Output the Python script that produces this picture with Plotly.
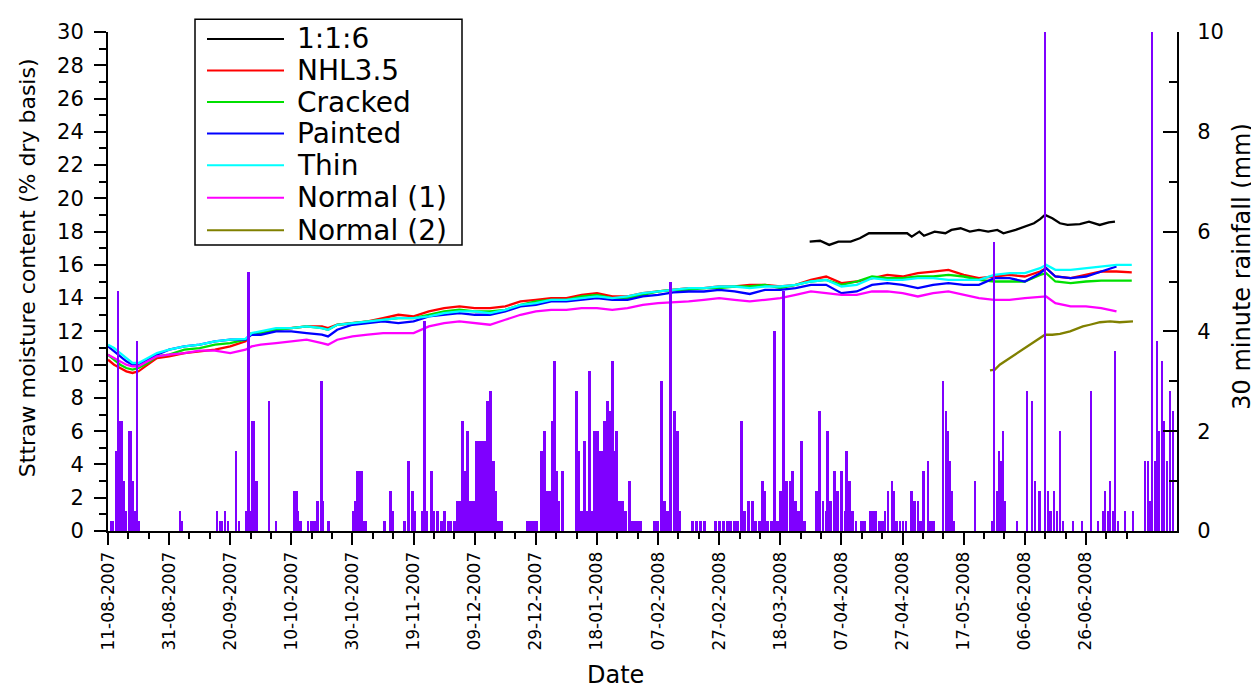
import pandas as pd
import plotly.graph_objects as go

START = "2007-08-11"

# ---------------- data ----------------
# moisture series sampled at day offsets from 11-08-2007
moist_day = [0, 2, 4, 6, 8, 10, 13, 16, 20, 25, 30, 35, 40, 45, 47, 50, 55, 60, 65, 70,
             72, 75, 80, 85, 90, 95, 100, 105, 110, 115, 120, 125, 130, 135, 140, 145, 150,
             155, 160, 165, 170, 175, 180, 185, 190, 195, 200, 205, 210, 215, 220, 225, 230,
             235, 240, 245, 250, 255, 260, 265, 270, 275, 280, 285, 290, 295, 300, 305, 307,
             310, 315, 320, 325, 330, 335]

nhl35 = [10.3, 10.0, 9.8, 9.6, 9.5, 9.6, 10.0, 10.4, 10.5, 10.7,
         10.8, 10.9, 11.1, 11.4, 11.9, 11.9, 12.1, 12.2, 12.3, 12.3,
         12.2, 12.4, 12.5, 12.6, 12.8, 13.0, 12.9, 13.2, 13.4, 13.5,
         13.4, 13.4, 13.5, 13.8, 13.9, 14.0, 14.0, 14.2, 14.3, 14.1,
         14.1, 14.3, 14.4, 14.5, 14.6, 14.6, 14.7, 14.7, 14.8, 14.8,
         14.7, 14.8, 15.1, 15.3, 14.9, 15.0, 15.2, 15.4, 15.3, 15.5,
         15.6, 15.7, 15.4, 15.2, 15.3, 15.4, 15.3, 15.6, 15.8, 15.3,
         15.2, 15.4, 15.6, 15.6, 15.55]

cracked = [10.6, 10.3, 10.0, 9.8, 9.7, 9.8, 10.1, 10.5, 10.6, 10.9,
           11.0, 11.2, 11.3, 11.5, 11.9, 11.9, 12.1, 12.2, 12.3, 12.2,
           12.1, 12.4, 12.5, 12.6, 12.7, 12.8, 12.8, 13.0, 13.2, 13.3,
           13.2, 13.2, 13.3, 13.6, 13.8, 13.9, 13.9, 14.1, 14.2, 14.0,
           14.0, 14.2, 14.4, 14.5, 14.5, 14.6, 14.6, 14.7, 14.7, 14.8,
           14.6, 14.8, 15.0, 15.1, 14.8, 15.0, 15.3, 15.2, 15.2, 15.3,
           15.3, 15.4, 15.3, 15.1, 15.0, 15.0, 15.0, 15.4, 15.5, 15.0,
           14.9, 15.0, 15.05, 15.05, 15.05]

painted = [11.1, 10.8, 10.5, 10.2, 10.0, 10.0, 10.3, 10.6, 10.9, 11.1,
           11.2, 11.4, 11.5, 11.5, 11.8, 11.8, 12.0, 12.0, 11.9, 11.8,
           11.7, 12.1, 12.4, 12.5, 12.6, 12.5, 12.6, 12.9, 13.0, 13.1,
           13.0, 13.0, 13.2, 13.5, 13.6, 13.8, 13.8, 13.9, 14.0, 13.9,
           13.9, 14.1, 14.2, 14.35, 14.4, 14.4, 14.5, 14.4, 14.25, 14.5,
           14.5, 14.6, 14.8, 14.8, 14.3, 14.4, 14.8, 14.9, 14.8, 14.6,
           14.8, 14.9, 14.8, 14.8, 15.2, 15.2, 15.0, 15.5, 15.8, 15.3,
           15.2, 15.3, 15.6, 15.9, None]

thin = [11.2, 11.0, 10.7, 10.4, 10.1, 10.1, 10.4, 10.7, 10.9, 11.1,
        11.2, 11.4, 11.5, 11.55, 11.9, 12.0, 12.2, 12.2, 12.3, 12.2,
        12.1, 12.4, 12.5, 12.6, 12.7, 12.8, 12.8, 12.9, 13.1, 13.2,
        13.2, 13.1, 13.3, 13.6, 13.7, 13.9, 13.9, 14.0, 14.1, 14.0,
        14.1, 14.3, 14.4, 14.5, 14.6, 14.6, 14.7, 14.7, 14.6, 14.7,
        14.7, 14.8, 15.0, 15.1, 14.7, 14.8, 15.2, 15.1, 15.1, 15.2,
        15.2, 15.1, 15.1, 15.1, 15.4, 15.5, 15.5, 15.8, 16.0, 15.7,
        15.7, 15.8, 15.9, 16.0, 16.0]

normal1 = [10.6, 10.4, 10.2, 10.0, 9.9, 9.9, 10.2, 10.5, 10.6, 10.7,
           10.85, 10.85, 10.7, 10.9, 11.1, 11.2, 11.3, 11.4, 11.5, 11.3,
           11.2, 11.5, 11.7, 11.8, 11.9, 11.9, 11.9, 12.3, 12.5, 12.6,
           12.5, 12.4, 12.7, 13.0, 13.2, 13.3, 13.3, 13.4, 13.4, 13.3,
           13.4, 13.6, 13.7, 13.75, 13.8, 13.9, 14.0, 13.9, 13.8, 13.9,
           14.0, 14.2, 14.4, 14.3, 14.2, 14.2, 14.4, 14.4, 14.3, 14.1,
           14.3, 14.4, 14.2, 14.0, 13.9, 13.9, 14.0, 14.1, 14.1, 13.7,
           13.5, 13.5, 13.4, 13.2, None]

mix116_day = [229.6, 233, 236, 239, 243, 246, 249, 255, 261.5, 263, 265.5, 267, 270.5,
              274, 276, 279, 282, 285, 288, 291, 293, 297, 300, 303, 305, 306.6, 309,
              311.5, 314, 318, 321, 324.5, 327.5, 329.5]
mix116 = [17.4, 17.45, 17.2, 17.4, 17.4, 17.6, 17.9, 17.9, 17.9, 17.7, 18.0, 17.75, 18.0,
          17.9, 18.1, 18.2, 18.0, 18.1, 18.0, 18.1, 17.9, 18.1, 18.3, 18.5, 18.75, 19.0, 18.8,
          18.5, 18.4, 18.45, 18.6, 18.4, 18.55, 18.6]

normal2_day = [288.6, 290.2, 291.8, 295, 298.4, 301.7, 304.9, 306.6, 309, 311.5, 314.8,
               319, 321.3, 324.6, 327.9, 331, 335.4]
normal2 = [9.65, 9.7, 10.0, 10.4, 10.8, 11.2, 11.6, 11.8, 11.8, 11.85, 12.0,
           12.3, 12.4, 12.55, 12.6, 12.55, 12.6]

# 30 minute rainfall (mm), at day offsets from 11-08-2007
rain_day = [1.0, 1.6, 2.6, 3.3, 3.9, 4.6, 5.2, 5.9, 6.9, 7.5, 8.2, 8.8, 9.5, 10.2,
            23.6, 24.2, 35.7, 36.7, 37.3, 38.3, 39.3, 41.9, 42.9, 45.2, 45.9, 46.5, 47.2,
            47.8, 48.5, 52.7, 55.0, 60.9, 61.6, 62.2, 62.9, 65.5, 66.5, 67.5, 68.5, 69.8,
            70.4, 72.1, 80.2, 80.9, 81.6, 82.2, 82.9, 83.5, 84.2, 90.4, 92.4, 93.0, 97.0,
            98.3, 99.6, 100.2, 102.8, 103.5, 104.2, 105.8, 106.5, 107.8, 109.1, 110.1,
            111.4, 112.3, 113.3, 114.3, 115.3, 116.0, 116.9, 117.6, 118.6, 119.6, 120.5,
            121.5, 122.5, 123.5, 124.1, 125.1, 126.1, 126.8, 127.7, 128.7,
            137.2, 138.2, 139.2, 140.2, 141.8, 142.8, 143.8, 144.8, 145.4, 146.1, 146.7,
            147.4, 148.7, 153.3, 153.9, 154.6, 155.3, 155.9, 156.6, 157.5, 158.2, 159.2,
            160.2, 160.8, 161.5, 162.5, 163.4, 164.1, 165.1, 165.7, 166.4, 167.4, 168.4,
            169.3, 170.7, 171.3, 172.3, 173.3, 174.3, 178.8, 179.8, 181.1, 182.1, 183.1,
            184.1, 185.4, 186.4, 187.0, 191.3, 192.6, 193.9, 195.2, 198.8, 200.1, 201.4,
            202.7, 203.7, 205.0, 206.0, 207.3, 208.3, 209.6, 210.9, 211.9, 213.2, 214.2,
            214.9, 215.8, 217.2, 218.1, 219.1, 220.1, 221.1, 222.1, 223.1, 224.0, 225.0,
            226.0, 227.0, 228.0, 231.9, 232.9, 233.9, 234.9, 235.5, 236.5, 237.8, 238.8,
            240.1, 241.1, 241.7, 242.7, 243.7, 244.7, 246.6, 247.6,
            249.3, 250.2, 251.2, 252.5, 253.5, 254.2, 255.2, 256.5, 257.1, 258.1, 259.1,
            260.1, 261.1, 263.0, 264.0, 265.0, 265.9, 266.9, 268.3, 269.2, 270.2, 273.2,
            274.2, 274.8, 275.5, 276.1, 276.8, 283.7, 289.2, 289.9, 290.9, 291.5, 292.2,
            292.8, 293.5, 297.4, 300.7, 302.3, 303.3, 304.9, 306.6, 307.6, 308.5, 309.5,
            310.5, 311.5, 312.5, 315.8, 318.7, 321.6, 323.9, 325.6, 326.2, 327.2, 327.9,
            328.9, 329.5, 330.5, 332.8, 335.4, 339.3, 340.3, 341.0, 341.6, 342.6, 343.2,
            343.9, 344.9, 345.6, 346.5, 347.5, 348.5]
rain_mm = [0.2, 0.2, 1.6, 4.8, 2.2, 2.2, 1.0, 0.4, 2.0, 2.0, 1.0, 0.4, 3.8, 0.2,
           0.4, 0.2, 0.4, 0.2, 0.2, 0.4, 0.2, 1.6, 0.2, 0.4, 5.2, 0.4, 2.2,
           2.2, 1.0, 2.6, 0.2, 0.8, 0.8, 0.4, 0.2, 0.2, 0.2, 0.2, 0.6, 3.0,
           0.6, 0.2, 0.4, 0.6, 1.2, 1.2, 1.2, 0.2, 0.2, 0.2, 0.8, 0.4, 0.2,
           1.4, 0.8, 0.4, 0.4, 4.2, 0.4, 1.2, 0.4, 0.4, 0.2, 0.4,
           0.2, 0.2, 0.2, 0.6, 0.6, 2.2, 1.2, 2.0, 0.6, 0.6, 1.8,
           1.8, 1.8, 1.8, 2.6, 2.8, 1.4, 0.8, 0.2, 0.2,
           0.2, 0.2, 0.2, 0.2, 1.6, 2.0, 0.8, 0.8, 2.2, 3.4, 1.2,
           0.6, 1.2, 2.8, 1.6, 0.4, 0.4, 1.8, 0.4, 3.2, 0.4, 2.0,
           2.0, 1.6, 1.6, 2.2, 2.6, 2.4, 3.4, 1.6, 2.0, 0.6, 0.6,
           0.4, 1.0, 0.2, 0.2, 0.2, 0.2, 0.2, 0.2, 3.0, 0.6, 0.4,
           5.0, 2.4, 2.0, 0.4, 0.2, 0.2, 0.2, 0.2, 0.2, 0.2, 0.2,
           0.2, 0.2, 0.2, 0.2, 2.2, 0.4, 0.6, 0.6, 0.2, 0.2, 1.0,
           0.8, 0.2, 0.2, 4.0, 0.2, 0.8, 4.8, 1.0, 1.0, 1.2, 0.6,
           0.4, 1.8, 0.2, 0.8, 2.4, 0.6, 0.4, 2.0, 0.6, 1.2, 0.8,
           1.2, 0.4, 1.6, 1.0, 0.4, 0.2, 0.2, 0.2,
           0.4, 0.4, 0.4, 0.2, 0.2, 0.4, 0.8, 1.0, 0.8, 0.2, 0.2,
           0.2, 0.2, 0.8, 0.6, 0.6, 0.2, 1.2, 1.4, 0.2, 0.2, 3.0,
           2.4, 2.0, 1.4, 0.8, 0.2, 1.0, 0.2, 5.8, 0.8, 1.6, 1.4,
           2.0, 0.6, 0.2, 2.8, 2.6, 1.0, 0.8, 10.0, 0.8, 0.4, 0.8,
           0.4, 2.0, 0.2, 0.2, 0.2, 2.8, 0.2, 0.4, 0.8, 0.4, 1.0,
           0.4, 3.6, 0.2, 0.4, 0.4, 1.4, 1.4, 0.6, 10.0, 1.4, 3.8,
           2.0, 3.4, 2.2, 1.4, 2.8, 2.4]

x_tick_labels = ["11-08-2007", "31-08-2007", "20-09-2007", "10-10-2007", "30-10-2007",
                 "19-11-2007", "09-12-2007", "29-12-2007", "18-01-2008", "07-02-2008",
                 "27-02-2008", "18-03-2008", "07-04-2008", "27-04-2008", "17-05-2008",
                 "06-06-2008", "26-06-2008"]
x_end_day = 349.8

series = [
    ("1:1:6", mix116_day, mix116, "#000000"),
    ("NHL3.5", moist_day, nhl35, "#ff0000"),
    ("Cracked", moist_day, cracked, "#00e000"),
    ("Painted", moist_day, painted, "#0000ff"),
    ("Thin", moist_day, thin, "#00ffff"),
    ("Normal (1)", moist_day, normal1, "#ff00ff"),
    ("Normal (2)", normal2_day, normal2, "#808000"),
]

# ---------------- figure ----------------
start = pd.Timestamp(START)
to_date = lambda d: [start + pd.Timedelta(days=float(v)) for v in d]

fig = go.Figure()
for name, dd, vals, col in series:
    fig.add_trace(go.Scatter(x=to_date(dd), y=vals, mode="lines", name=name,
                             line=dict(color=col, width=2.3), showlegend=False,
                             connectgaps=False))

fig.add_trace(go.Bar(x=to_date(rain_day), y=rain_mm, yaxis="y2", name="rainfall",
                     width=[0.85 * 86400000] * len(rain_day),
                     marker=dict(color="#7f00ff", line=dict(width=0)),
                     showlegend=False))

major_vals = [pd.to_datetime(t, format="%d-%m-%Y") for t in x_tick_labels]
minor_vals = []
for i in range(len(major_vals)):
    for k in (1, 2):
        minor_vals.append(major_vals[i] + pd.Timedelta(days=20 * k / 3))

FONT = "DejaVu Sans"
# page body has an 8px default margin: size/margins compensate so the plot area
# lands at x 108..1177, y 25..531 in the 1259x691 window
fig.update_layout(
    width=1251, height=683,
    margin=dict(l=100, r=82, t=17, b=160),
    plot_bgcolor="white", paper_bgcolor="white",
    font=dict(family=FONT, color="black"),
    bargap=0,
    xaxis=dict(type="date", range=[start, start + pd.Timedelta(days=x_end_day)],
               tickvals=major_vals, ticktext=x_tick_labels, tickangle=-90,
               tickfont=dict(size=17), ticks="outside", ticklen=12, tickwidth=2,
               tickcolor="black", showline=True, linecolor="black", linewidth=2,
               showgrid=False, zeroline=False,
               minor=dict(tickvals=minor_vals, ticks="outside", ticklen=6, tickwidth=2,
                          tickcolor="black", showgrid=False)),
    yaxis=dict(range=[0, 30], dtick=2, tick0=0, ticks="outside", ticklen=12, tickwidth=2,
               tickcolor="black", tickfont=dict(size=21), showline=True, linecolor="black",
               linewidth=2, showgrid=False, zeroline=False, ticklabelstandoff=6,
               minor=dict(dtick=1, ticks="outside", ticklen=7, tickwidth=2, tickcolor="black")),
    yaxis2=dict(range=[0, 10], dtick=2, tick0=0, overlaying="y", side="right",
                ticks="inside", ticklen=14, tickwidth=2, tickcolor="black",
                tickfont=dict(size=21), showline=True, linecolor="black", linewidth=2,
                showgrid=False, zeroline=False, ticklabelstandoff=14,
                minor=dict(dtick=1, ticks="inside", ticklen=8, tickwidth=2, tickcolor="black")),
)

# axis titles
fig.add_annotation(text="Sttraw moisture content (% dry basis)", xref="paper", yref="paper",
                   x=-0.0758, y=0.5287, textangle=-90, showarrow=False,
                   font=dict(size=22, family=FONT), xanchor="center", yanchor="middle")
fig.add_annotation(text="30 minute rainfall (mm)", xref="paper", yref="paper",
                   x=1.0608, y=0.5316, textangle=-90, showarrow=False,
                   font=dict(size=24, family=FONT), xanchor="center", yanchor="middle")
fig.add_annotation(text="Date", xref="paper", yref="paper", x=0.4743, y=-0.288,
                   showarrow=False, font=dict(size=24, family=FONT),
                   xanchor="center", yanchor="middle")

# legend box (drawn manually to match the reference layout)
px = lambda v: (v - 108) / 1069.0
py = lambda v: (531 - v) / 506.0
fig.add_shape(type="rect", xref="paper", yref="paper", x0=px(195), x1=px(462),
              y0=py(241), y1=py(12), line=dict(color="black", width=1.5),
              fillcolor="white", layer="above")
rows = [32, 64, 96, 128, 160, 193, 226]
for (name, _, _, col), ry in zip(series, rows):
    fig.add_shape(type="line", xref="paper", yref="paper", x0=px(207), x1=px(284),
                  y0=py(ry), y1=py(ry), line=dict(color=col, width=2), layer="above")
    fig.add_annotation(text=name, xref="paper", yref="paper", x=px(295), y=py(ry),
                       xanchor="left", yanchor="middle", showarrow=False,
                       font=dict(size=28, family=FONT))

fig.write_html("out.html")
